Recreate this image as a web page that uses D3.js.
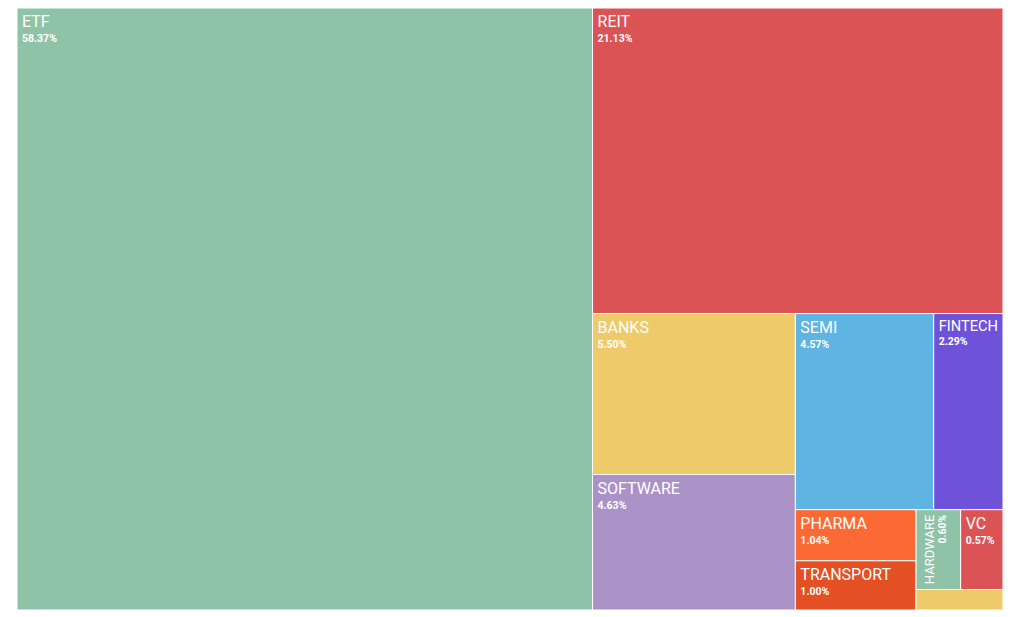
<!DOCTYPE html>
<html>
<head>
<meta charset="utf-8">
<script src="https://cdn.jsdelivr.net/npm/d3@7"></script>
<style>
  html, body { margin: 0; padding: 0; background: #ffffff; }
  svg { display: block; }
  text { font-family: Roboto, "Noto Sans", sans-serif; fill: #ffffff; }
</style>
</head>
<body>
<svg id="chart" width="1013" height="617"></svg>
<script>
const names = ["ETF", "REIT", "BANKS", "SOFTWARE", "SEMI", "FINTECH", "PHARMA", "TRANSPORT", "HARDWARE", "VC", "OTHER"];
const shares = [58.37, 21.13, 5.50, 4.63, 4.57, 2.29, 1.04, 1.00, 0.60, 0.57, 0.30];
const palette = ["#8fc3a8", "#dc5356", "#eeca6b", "#ab92c6", "#5eb5e3", "#6e52d9", "#fd6935", "#e44f23"];

const W = 1013, H = 617;
const box = { x0: 17, y0: 8, x1: 1003, y1: 610 };

const svg = d3.select("#chart");

const root = d3.hierarchy({ children: names.map((n, i) => ({ name: n, value: shares[i], idx: i })) })
  .sum(d => d.value || 0)
  .sort((a, b) => b.value - a.value);

d3.treemap()
  .tile(d3.treemapSquarify)
  .size([box.x1 - box.x0, box.y1 - box.y0])
  .round(false)(root);

const color = d3.scaleOrdinal().domain(d3.range(palette.length)).range(palette);

const g = svg.append("g").attr("transform", `translate(${box.x0},${box.y0})`);

const cells = g.selectAll("g.cell")
  .data(root.leaves())
  .join("g")
  .attr("class", "cell")
  .attr("transform", d => `translate(${d.x0},${d.y0})`);

cells.append("rect")
  .attr("width", d => d.x1 - d.x0)
  .attr("height", d => d.y1 - d.y0)
  .attr("fill", d => color(d.data.idx % palette.length))
  .attr("stroke", "#ffffff")
  .attr("stroke-width", 1);

const measure = svg.append("text").attr("font-size", 16).attr("visibility", "hidden");
function textWidth(s, size, weight) {
  measure.attr("font-size", size).attr("font-weight", weight || "normal").text(s);
  return measure.node().getComputedTextLength();
}

cells.each(function(d) {
  const w = d.x1 - d.x0, h = d.y1 - d.y0;
  const sel = d3.select(this);
  const pct = d.data.value.toFixed(2) + "%";
  const nw = textWidth(d.data.name, 16);
  if (h < 40) return;
  const fitSize = 16 * (w - 10) / nw;
  if (fitSize >= 13) {
    const s = Math.min(16, fitSize);
    const nb = 5 + s * 0.875;
    sel.append("text").attr("x", 5).attr("y", nb).attr("font-size", s).text(d.data.name);
    sel.append("text").attr("x", 5).attr("y", nb + s * 0.95).attr("font-size", 10.5).attr("font-weight", "bold").text(pct);
  } else if (h > w) {
    const t = sel.append("g").attr("transform", "translate(0,5) rotate(-90)");
    t.append("text").attr("x", 0).attr("y", 17.5).attr("text-anchor", "end").attr("font-size", 13).text(d.data.name);
    t.append("text").attr("x", 0).attr("y", 30).attr("text-anchor", "end").attr("font-size", 10.5).attr("font-weight", "bold").text(pct);
  }
});
measure.remove();
</script>
</body>
</html>
